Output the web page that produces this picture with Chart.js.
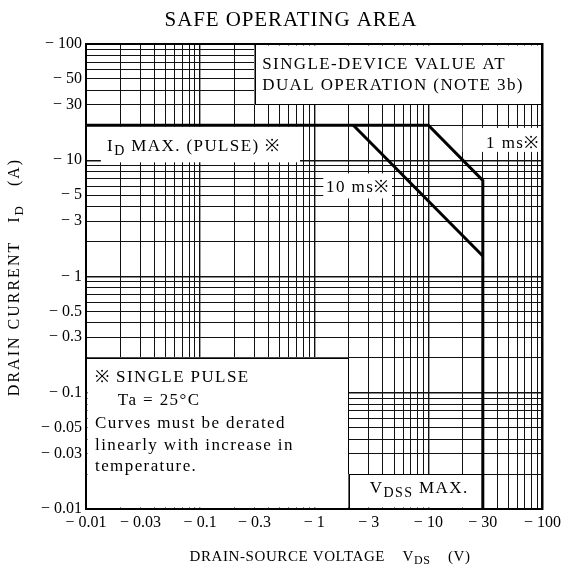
<!DOCTYPE html>
<html>
<head>
<meta charset="utf-8">
<script src="https://cdn.jsdelivr.net/npm/chart.js@4.4.1/dist/chart.umd.min.js"></script>
<style>
  html, body { margin: 0; padding: 0; background: #fff; }
  #wrap { width: 565px; height: 577px; }
</style>
</head>
<body>
<div id="wrap"><canvas id="c" width="565" height="577"></canvas></div>
<script>
// ---- data ----
const curve1msV = [0.01, 10, 30, 30];     // drain-source voltage (V)
const curve1msI = [20, 20, 6.7, 0.01];    // drain current (A)
const curve10msV = [2.2, 30];
const curve10msI = [20, 1.5];
const xTickLabels = ['0.01', '0.03', '0.1', '0.3', '1', '3', '10', '30', '100'];
const yTickLabels = ['0.01', '0.03', '0.05', '0.1', '0.3', '0.5', '1', '3', '5', '10', '30', '50', '100'];
const decadeStarts = [0.01, 0.1, 1, 10];
const axisMin = 0.01, axisMax = 100;

// white label regions, in data coordinates
const whiteBoxes = [
  { x0: 0.3, x1: 100, y0: 30, y1: 100, stroke: true },
  { x0: 0.01, x1: 2, y0: 0.01, y1: 0.2, stroke: true },
  { x0: 2, x1: 30, y0: 0.01, y1: 0.02, stroke: true },
  { x0: 0.0135, x1: 0.75, y0: 9.6, y1: 19.5, stroke: false },
  { x0: 20, x1: 100, y0: 11.8, y1: 19, stroke: false },
  { x0: 1.2, x1: 4.8, y0: 4.7, y1: 7.7, stroke: false }
];

// text annotations (anchor in data coordinates)
const notes = [
  { segs: [{ t: 'SINGLE-DEVICE VALUE AT' }], x: 0.35, y: 66, align: 'left' },
  { segs: [{ t: 'DUAL OPERATION (NOTE 3b)' }], x: 0.35, y: 43.5, align: 'left' },
  { segs: [{ t: 'I' }, { t: 'D', sub: true }, { t: ' MAX. (PULSE) ※' }], x: 0.0153, y: 13.0, align: 'left' },
  { segs: [{ t: '1 ms※' }], x: 94.5, y: 13.8, align: 'right' },
  { segs: [{ t: '10 ms※' }], x: 1.27, y: 5.77, align: 'left' },
  { segs: [{ t: '※ SINGLE PULSE' }], x: 0.012, y: 0.135, align: 'left' },
  { segs: [{ t: 'Ta = 25°C' }], x: 0.019, y: 0.085, align: 'left' },
  { segs: [{ t: 'Curves must be derated' }], x: 0.012, y: 0.0544, align: 'left' },
  { segs: [{ t: 'linearly with increase in' }], x: 0.012, y: 0.0355, align: 'left' },
  { segs: [{ t: 'temperature.' }], x: 0.012, y: 0.0234, align: 'left' },
  { segs: [{ t: 'V' }, { t: 'DSS', sub: true }, { t: ' MAX.' }], x: 3.07, y: 0.0151, align: 'left' }
];

const SERIF = '"Liberation Serif", "DejaVu Serif", serif';

const gridValues = [];
decadeStarts.forEach(d => { for (let k = 1; k <= 9; k++) gridValues.push(Number((k * d).toPrecision(3))); });
gridValues.push(axisMax);

function isLabel(list, v) {
  return list.find(s => Math.abs(Math.log10(parseFloat(s)) - Math.log10(v)) < 1e-6);
}
function isDecade(v) {
  const l = Math.log10(v);
  return Math.abs(l - Math.round(l)) < 1e-6;
}

function drawRich(ctx, segs, x, y, size, spacing, align) {
  const subSize = Math.round(size * 0.8);
  const widths = segs.map(s => {
    ctx.font = (s.sub ? subSize : size) + 'px ' + SERIF;
    ctx.letterSpacing = spacing + 'px';
    return ctx.measureText(s.t).width;
  });
  const total = widths.reduce((a, b) => a + b, 0);
  let cx = align === 'right' ? x - total : align === 'center' ? x - total / 2 : x;
  segs.forEach((s, i) => {
    ctx.font = (s.sub ? subSize : size) + 'px ' + SERIF;
    ctx.letterSpacing = spacing + 'px';
    ctx.textAlign = 'left';
    ctx.textBaseline = 'middle';
    ctx.fillText(s.t, cx, s.sub ? y + size * 0.28 : y);
    cx += widths[i];
  });
}

const decorPlugin = {
  id: 'decor',
  beforeDatasetsDraw(chart) {
    const { ctx, chartArea: a, scales: { x, y } } = chart;
    ctx.save();
    whiteBoxes.forEach(b => {
      let l = x.getPixelForValue(b.x0), r = x.getPixelForValue(b.x1);
      let t = y.getPixelForValue(b.y1), bt = y.getPixelForValue(b.y0);
      l = Math.max(l, a.left + 1.5); r = Math.min(r, a.right - 1.5);
      t = Math.max(t, a.top + 1.5); bt = Math.min(bt, a.bottom - 1.5);
      ctx.fillStyle = '#fff';
      ctx.fillRect(l, t, r - l, bt - t);
      if (b.stroke) {
        ctx.strokeStyle = '#000';
        ctx.lineWidth = 1;
        const L = Math.round(x.getPixelForValue(b.x0)) + 0.5, R = Math.round(x.getPixelForValue(b.x1)) - 0.5;
        const T = Math.round(y.getPixelForValue(b.y1)) + 0.5, B = Math.round(y.getPixelForValue(b.y0)) - 0.5;
        ctx.strokeRect(L, T, R - L, B - T);
      }
    });
    ctx.restore();
  },
  afterDraw(chart) {
    const { ctx, chartArea: a, scales: { x, y } } = chart;
    ctx.save();
    ctx.fillStyle = '#000';
    // frame
    ctx.strokeStyle = '#000';
    ctx.lineWidth = 2;
    ctx.strokeRect(a.left, a.top, a.right - a.left, a.bottom - a.top);
    // notes
    notes.forEach(n => {
      drawRich(ctx, n.segs, x.getPixelForValue(n.x), y.getPixelForValue(n.y), 17, 1.4, n.align);
    });
    // title
    drawRich(ctx, [{ t: 'SAFE OPERATING AREA' }], 291, 20, 21, 0.9, 'center');
    // x axis title
    drawRich(ctx, [{ t: 'DRAIN-SOURCE VOLTAGE    V' }, { t: 'DS', sub: true }, { t: '    (V)' }], 330, 557, 15, 0.6, 'center');
    // y axis title
    ctx.translate(15, 277);
    ctx.rotate(-Math.PI / 2);
    drawRich(ctx, [{ t: 'DRAIN CURRENT   I' }, { t: 'D', sub: true }, { t: '   (A)' }], 0, 0, 16, 2, 'center');
    ctx.restore();
  }
};

function tickFmt(list) {
  return function (v) {
    const s = isLabel(list, v);
    return s ? '\u2212 ' + s : '';
  };
}

function gridWidth(ctx) {
  const v = ctx.tick ? ctx.tick.value : 1;
  if (v <= axisMin * 1.0001 || v >= axisMax * 0.9999) return 2;
  return isDecade(v) ? 1.4 : 1;
}

new Chart(document.getElementById('c'), {
  type: 'scatter',
  data: {
    datasets: [
      {
        label: '1 ms',
        data: curve1msV.map((v, i) => ({ x: v, y: curve1msI[i] })),
        showLine: true, borderColor: '#000', borderWidth: 3, pointRadius: 0, tension: 0, fill: false
      },
      {
        label: '10 ms',
        data: curve10msV.map((v, i) => ({ x: v, y: curve10msI[i] })),
        showLine: true, borderColor: '#000', borderWidth: 3, pointRadius: 0, tension: 0, fill: false
      }
    ]
  },
  options: {
    responsive: false,
    animation: false,
    devicePixelRatio: 1,
    layout: { padding: { left: 0, right: 22, top: 44, bottom: 0 } },
    plugins: { legend: { display: false }, tooltip: { enabled: false }, title: { display: false } },
    scales: {
      x: {
        type: 'logarithmic', min: axisMin, max: axisMax, position: 'bottom',
        afterBuildTicks: s => { s.ticks = gridValues.map(v => ({ value: v })); },
        afterFit: s => { s.height = 68; },
        ticks: { autoSkip: false, maxRotation: 0, minRotation: 0, padding: 4, color: '#000',
                 font: { family: SERIF, size: 16 }, callback: tickFmt(xTickLabels) },
        grid: { color: '#111', lineWidth: gridWidth, drawTicks: false },
        border: { display: true, color: '#000', width: 2 }
      },
      y: {
        type: 'logarithmic', min: axisMin, max: axisMax, position: 'left',
        afterBuildTicks: s => { s.ticks = gridValues.map(v => ({ value: v })); },
        afterFit: s => { s.width = 86; },
        ticks: { autoSkip: false, padding: 4, color: '#000',
                 font: { family: SERIF, size: 16 }, callback: tickFmt(yTickLabels) },
        grid: { color: '#111', lineWidth: gridWidth, drawTicks: false },
        border: { display: true, color: '#000', width: 2 }
      }
    }
  },
  plugins: [decorPlugin]
});
</script>
</body>
</html>
